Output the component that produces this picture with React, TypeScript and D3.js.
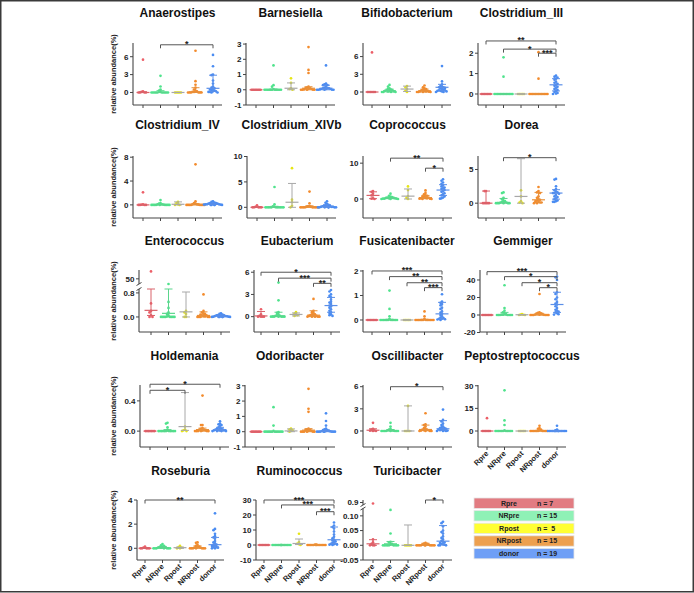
import React from 'react';
import * as d3 from 'd3';

// ---------------- groups / legend ----------------
const groups = ['Rpre', 'NRpre', 'Rpost', 'NRpost', 'donor'];
const groupCounts = [7, 15, 5, 15, 19];
const legendCountLabels = ['n = 7', 'n = 15', 'n =  5', 'n = 15', 'n = 19'];
const dotColors = ['#ec5f68', '#4fe38c', '#e6e614', '#f38b2c', '#4a8cf2'];
const barColors = ['#d9626a', '#5bd58c', '#a8a8a8', '#e8903a', '#5b8fe8'];
const legendColors = ['#e27c82', '#8ff1b6', '#ffff33', '#eda04f', '#6e9ff6'];
const yAxisTitle = 'relative abundance(%)';

// ---------------- data (values per group: Rpre, NRpre, Rpost, NRpost, donor) ----------------
const anaerostipesValues = [
  [5.5, 0.2, 0.1, 0, 0, 0, 0],
  [2.8, 1.0, 0.5, 0.3, 0.1, 0, 0, 0, 0, 0, 0, 0, 0, 0, 0],
  [0, 0, 0, 0, 0],
  [7.0, 1.9, 1.3, 0.8, 0.5, 0.3, 0.2, 0.1, 0.1, 0, 0, 0, 0, 0, 0],
  [6.3, 4.4, 3.0, 2.9, 2.0, 1.5, 1.0, 0.8, 0.7, 0.6, 0.5, 0.4, 0.3, 0.2, 0.2, 0.1, 0.1, 0, 0],
];
const anaerostipesStats = [[0, 0, 0.1], [0, 0, 0.3], [0, 0, 0], [0.1, 0, 0.8], [0.7, 0.2, 2.9]];
const anaerostipesSig = [[1, 4, 8.0, '*']];

const barnesiellaValues = [
  [0, 0, 0, 0, 0, 0, 0],
  [1.6, 0.3, 0.2, 0.05, 0, 0, 0, 0, 0, 0, 0, 0, 0, 0, 0],
  [0.75, 0.45, 0.1, 0.05, 0],
  [2.8, 1.3, 1.1, 0.2, 0.15, 0.1, 0.1, 0.05, 0.05, 0.02, 0, 0, 0, 0, 0],
  [1.6, 0.4, 0.35, 0.3, 0.3, 0.2, 0.15, 0.1, 0.1, 0.1, 0.05, 0.05, 0.05, 0.02, 0, 0, 0, 0, 0],
];
const barnesiellaStats = [[0, 0, 0], [0, 0, 0.05], [0.1, 0, 0.45], [0.1, 0, 0.2], [0.1, 0, 0.3]];
const barnesiellaSig = [];

const bifidobacteriumValues = [
  [6.7, 0, 0, 0, 0, 0, 0],
  [1.2, 0.9, 0.6, 0.5, 0.4, 0.3, 0.3, 0.2, 0.2, 0.1, 0.1, 0, 0, 0, 0],
  [1.0, 0.8, 0.5, 0.2, 0],
  [1.1, 0.8, 0.6, 0.5, 0.4, 0.3, 0.2, 0.2, 0.1, 0.1, 0.05, 0, 0, 0, 0],
  [4.4, 1.8, 1.3, 1.0, 0.9, 0.8, 0.8, 0.7, 0.6, 0.5, 0.4, 0.3, 0.3, 0.2, 0.2, 0.1, 0.1, 0, 0],
];
const bifidobacteriumStats = [[0, 0, 0], [0.2, 0, 0.5], [0.5, 0.1, 1.0], [0.2, 0, 0.5], [0.8, 0.2, 1.3]];
const bifidobacteriumSig = [];

const clostridiumIIIValues = [
  [0, 0, 0, 0, 0, 0, 0],
  [1.8, 0.85, 0, 0, 0, 0, 0, 0, 0, 0, 0, 0, 0, 0, 0],
  [0, 0, 0, 0, 0],
  [2.05, 0.75, 0, 0, 0, 0, 0, 0, 0, 0, 0, 0, 0, 0, 0],
  [0.9, 0.85, 0.8, 0.75, 0.7, 0.6, 0.55, 0.5, 0.45, 0.4, 0.35, 0.3, 0.25, 0.2, 0.15, 0.1, 0.05, 0.02, 0],
];
const clostridiumIIIStats = [[0, 0, 0], [0, 0, 0], [0, 0, 0], [0, 0, 0], [0.45, 0.15, 0.75]];
const clostridiumIIISig = [[0, 4, 2.6, '**'], [1, 4, 2.2, '*'], [3, 4, 2.0, '***']];

const clostridiumIVValues = [
  [2.1, 0.1, 0.05, 0, 0, 0, 0],
  [0.8, 0.3, 0.2, 0.1, 0.1, 0.05, 0, 0, 0, 0, 0, 0, 0, 0, 0],
  [0.5, 0.3, 0.1, 0, 0],
  [6.8, 0.6, 0.3, 0.2, 0.1, 0.1, 0.05, 0, 0, 0, 0, 0, 0, 0, 0],
  [0.6, 0.5, 0.4, 0.3, 0.3, 0.2, 0.2, 0.2, 0.1, 0.1, 0.1, 0.1, 0.05, 0.05, 0, 0, 0, 0, 0],
];
const clostridiumIVStats = [[0, 0, 0.05], [0.05, 0, 0.1], [0.1, 0, 0.5], [0.05, 0, 0.2], [0.1, 0.05, 0.3]];
const clostridiumIVSig = [];

const clostridiumXIVbValues = [
  [0.4, 0.1, 0, 0, 0, 0, 0],
  [4.0, 0.6, 0.2, 0.1, 0, 0, 0, 0, 0, 0, 0, 0, 0, 0, 0],
  [7.7, 1.5, 1.0, 0.3, 0],
  [3.1, 0.8, 0.3, 0.2, 0.1, 0.1, 0, 0, 0, 0, 0, 0, 0, 0, 0],
  [1.2, 0.9, 0.7, 0.5, 0.4, 0.3, 0.3, 0.2, 0.2, 0.1, 0.1, 0.1, 0, 0, 0, 0, 0, 0, 0],
];
const clostridiumXIVbStats = [[0, 0, 0.1], [0, 0, 0.2], [1.0, 0, 4.7], [0.1, 0, 0.3], [0.2, 0, 0.5]];
const clostridiumXIVbSig = [];

const coprococcusValues = [
  [2.2, 2.0, 1.5, 1.0, 0.2, 0.1, 0],
  [1.5, 0.9, 0.7, 0.5, 0.4, 0.3, 0.3, 0.2, 0.2, 0.1, 0.1, 0.1, 0, 0, 0],
  [3.5, 2.5, 0.8, 0.3, 0],
  [2.4, 1.7, 1.3, 1.0, 0.9, 0.7, 0.5, 0.4, 0.3, 0.2, 0.2, 0.1, 0.1, 0, 0],
  [5.5, 5.1, 4.6, 4.2, 3.8, 3.5, 3.2, 3.0, 2.8, 2.5, 2.2, 2.0, 1.6, 1.3, 1.0, 0.7, 0.4, 0.2, 0.1],
];
const coprococcusStats = [[1.0, 0.1, 2.0], [0.2, 0.1, 0.5], [0.8, 0, 2.8], [0.4, 0.1, 1.0], [2.5, 1.0, 4.0]];
const coprococcusSig = [[1, 4, 11.4, '**'], [3, 4, 8.6, '*']];

const doreaValues = [
  [1.8, 1.8, 0, 0, 0, 0, 0],
  [1.6, 1.5, 0.8, 0.6, 0.4, 0.3, 0.2, 0.1, 0.1, 0, 0, 0, 0, 0, 0],
  [1.9, 1.0, 0.3, 0.1, 0],
  [2.4, 1.8, 1.6, 1.5, 1.0, 0.8, 0.6, 0.5, 0.4, 0.3, 0.2, 0.1, 0.1, 0, 0],
  [3.6, 3.5, 2.5, 2.1, 1.9, 1.7, 1.6, 1.5, 1.5, 1.4, 1.2, 1.0, 0.9, 0.7, 0.6, 0.4, 0.3, 0.2, 0.2],
];
const doreaStats = [[0, 0, 1.8], [0.1, 0, 0.7], [1.0, 0, 6.6], [0.5, 0.1, 1.6], [1.5, 0.6, 2.0]];
const doreaSig = [[1, 4, 6.75, '*']];

const enterococcusValues = [
  [60, 0.45, 0.2, 0.15, 0.05, 0, 0],
  [0.95, 0.5, 0.3, 0.15, 0.1, 0.05, 0.02, 0, 0, 0, 0, 0, 0, 0, 0],
  [0.2, 0.15, 0.1, 0, 0],
  [0.75, 0.2, 0.15, 0.12, 0.1, 0.08, 0.05, 0.05, 0.03, 0.02, 0, 0, 0, 0, 0],
  [0.12, 0.1, 0.08, 0.06, 0.05, 0.05, 0.04, 0.03, 0.03, 0.02, 0.02, 0.01, 0.01, 0, 0, 0, 0, 0, 0],
];
const enterococcusStats = [[0.22, 0.05, 0.93], [0.12, 0, 0.93], [0.17, 0, 0.83], [0.05, 0, 0.17], [0.03, 0, 0.07]];
const enterococcusSig = [];

const eubacteriumValues = [
  [1.0, 0.3, 0.1, 0, 0, 0, 0],
  [4.6, 2.2, 0.6, 0.5, 0.3, 0.2, 0.1, 0.1, 0, 0, 0, 0, 0, 0, 0],
  [0.6, 0.4, 0.3, 0.2, 0.1],
  [2.4, 0.8, 0.6, 0.5, 0.3, 0.3, 0.2, 0.2, 0.1, 0.1, 0, 0, 0, 0, 0],
  [3.6, 3.4, 3.0, 2.8, 2.6, 2.3, 2.0, 1.9, 1.7, 1.5, 1.4, 1.2, 1.0, 0.8, 0.6, 0.5, 0.3, 0.2, 0.1],
];
const eubacteriumStats = [[0.1, 0, 0.7], [0.1, 0, 0.6], [0.3, 0.1, 0.5], [0.2, 0, 0.8], [1.5, 0.6, 2.6]];
const eubacteriumSig = [[0, 4, 6.0, '*'], [1, 4, 5.2, '***'], [3, 4, 4.5, '**']];

const fusicatenibacterValues = [
  [0, 0, 0, 0, 0, 0, 0],
  [1.2, 0.45, 0.15, 0.05, 0, 0, 0, 0, 0, 0, 0, 0, 0, 0, 0],
  [0, 0, 0, 0, 0],
  [0.35, 0.15, 0.05, 0, 0, 0, 0, 0, 0, 0, 0, 0, 0, 0, 0],
  [1.05, 0.75, 0.7, 0.65, 0.6, 0.5, 0.45, 0.35, 0.3, 0.25, 0.2, 0.15, 0.1, 0.08, 0.05, 0.05, 0.03, 0.02, 0],
];
const fusicatenibacterStats = [[0, 0, 0], [0, 0, 0.03], [0, 0, 0], [0, 0, 0.03], [0.25, 0.05, 0.72]];
const fusicatenibacterSig = [[0, 4, 2.0, '***'], [1, 4, 1.77, '**'], [2, 4, 1.52, '**'], [3, 4, 1.32, '***']];

const gemmigerValues = [
  [0, 0, 0, 0, 0, 0, 0],
  [34, 8, 5, 3, 1.5, 1, 0.5, 0.3, 0, 0, 0, 0, 0, 0, 0],
  [1, 0.5, 0.3, 0, 0],
  [24, 3, 2.5, 2, 1.5, 1, 0.5, 0.3, 0.2, 0, 0, 0, 0, 0, 0],
  [44, 43, 40, 26, 24, 20, 18, 15, 13, 12, 10, 8, 6, 5, 4, 3, 2, 1, 0.5],
];
const gemmigerStats = [[0, 0, 0], [0.3, 0, 3], [0.3, 0, 0.5], [0.3, 0, 2], [12, 3, 26]];
const gemmigerSig = [[0, 4, 49.5, '***'], [1, 4, 43.8, '*'], [2, 4, 36.9, '*'], [3, 4, 31.2, '*']];

const holdemaniaValues = [
  [0, 0, 0, 0, 0, 0, 0],
  [0.11, 0.1, 0.05, 0.02, 0, 0, 0, 0, 0, 0, 0, 0, 0, 0, 0],
  [0.06, 0.02, 0.01, 0, 0],
  [0.47, 0.08, 0.08, 0.04, 0.03, 0.02, 0.02, 0.01, 0.01, 0, 0, 0, 0, 0, 0],
  [0.13, 0.1, 0.09, 0.08, 0.07, 0.05, 0.04, 0.03, 0.03, 0.02, 0.02, 0.02, 0.01, 0.01, 0.01, 0, 0, 0, 0],
];
const holdemaniaStats = [[0, 0, 0], [0, 0, 0.02], [0.06, 0.01, 0.51], [0.02, 0, 0.04], [0.02, 0, 0.05]];
const holdemaniaSig = [[0, 4, 0.62, '*'], [0, 2, 0.54, '*']];

const odoribacterValues = [
  [0, 0, 0, 0, 0, 0, 0],
  [1.6, 0.4, 0.05, 0, 0, 0, 0, 0, 0, 0, 0, 0, 0, 0, 0],
  [0.2, 0.15, 0.1, 0.05, 0],
  [2.8, 1.5, 1.3, 0.2, 0.15, 0.1, 0.1, 0.05, 0.05, 0, 0, 0, 0, 0, 0],
  [1.2, 0.7, 0.4, 0.2, 0.15, 0.1, 0.1, 0.05, 0.05, 0.03, 0.02, 0, 0, 0, 0, 0, 0, 0, 0],
];
const odoribacterStats = [[0, 0, 0], [0, 0, 0.02], [0.05, 0, 0.18], [0.1, 0, 0.2], [0.03, 0, 0.1]];
const odoribacterSig = [];

const oscillibacterValues = [
  [1.1, 0.3, 0.2, 0.1, 0.05, 0, 0],
  [1.1, 0.6, 0.3, 0.2, 0.1, 0.1, 0.05, 0, 0, 0, 0, 0, 0, 0, 0],
  [3.4, 0, 0, 0, 0],
  [2.4, 0.9, 0.8, 0.6, 0.4, 0.3, 0.2, 0.2, 0.1, 0.1, 0.05, 0, 0, 0, 0],
  [2.9, 1.5, 1.3, 1.0, 0.8, 0.6, 0.5, 0.4, 0.4, 0.3, 0.3, 0.2, 0.2, 0.1, 0.1, 0.05, 0, 0, 0],
];
const oscillibacterStats = [[0.1, 0, 0.3], [0.05, 0, 0.2], [0, 0, 3.4], [0.2, 0.05, 0.8], [0.3, 0.1, 1.4]];
const oscillibacterSig = [[1, 4, 6.0, '*']];

const peptostreptococcusValues = [
  [8.5, 0, 0, 0, 0, 0, 0],
  [27, 7, 4, 0.5, 0, 0, 0, 0, 0, 0, 0, 0, 0, 0, 0],
  [0, 0, 0, 0, 0],
  [3.5, 2, 1.5, 1, 0.5, 0, 0, 0, 0, 0, 0, 0, 0, 0, 0],
  [3.5, 1, 0.5, 0, 0, 0, 0, 0, 0, 0, 0, 0, 0, 0, 0, 0, 0, 0, 0],
];
const peptostreptococcusStats = [[0, 0, 0], [0, 0, 0.3], [0, 0, 0], [0, 0, 0.5], [0, 0, 0.2]];
const peptostreptococcusSig = [];

const roseburiaValues = [
  [0.15, 0.05, 0, 0, 0, 0, 0],
  [0.35, 0.25, 0.2, 0.15, 0.1, 0.1, 0.05, 0.05, 0, 0, 0, 0, 0, 0, 0],
  [0.2, 0.1, 0.05, 0, 0],
  [0.5, 0.45, 0.3, 0.2, 0.15, 0.1, 0.05, 0.05, 0, 0, 0, 0, 0, 0, 0],
  [2.9, 1.6, 1.5, 1.2, 1.0, 0.9, 0.8, 0.6, 0.5, 0.4, 0.3, 0.3, 0.2, 0.2, 0.1, 0.1, 0.05, 0, 0],
];
const roseburiaStats = [[0, 0, 0.05], [0.05, 0, 0.15], [0.05, 0, 0.1], [0.05, 0, 0.2], [0.3, 0.1, 0.9]];
const roseburiaSig = [[0, 4, 4.0, '**']];

const ruminococcusValues = [
  [0, 0, 0, 0, 0, 0, 0],
  [0, 0, 0, 0, 0, 0, 0, 0, 0, 0, 0, 0, 0, 0, 0],
  [7.5, 2, 1, 0.5, 0],
  [0.3, 0.2, 0, 0, 0, 0, 0, 0, 0, 0, 0, 0, 0, 0, 0],
  [15, 13, 12, 11, 9, 7, 5.5, 4.5, 3.5, 3, 2.5, 2, 1.5, 1, 0.8, 0.5, 0.3, 0.2, 0],
];
const ruminococcusStats = [[0, 0, 0], [0, 0, 0], [1, 0.3, 4], [0, 0, 0], [3.5, 1, 12]];
const ruminococcusSig = [[0, 4, 30, '***'], [1, 4, 26.7, '***'], [3, 4, 22.2, '***']];

const turicibacterValues = [
  [0.88, 0.02, 0.01, 0.005, 0, 0, 0],
  [0.12, 0.04, 0.012, 0.01, 0.005, 0.003, 0, 0, 0, 0, 0, 0, 0, 0, 0],
  [0, 0, 0, 0, 0],
  [0.008, 0.006, 0.005, 0.003, 0.002, 0, 0, 0, 0, 0, 0, 0, 0, 0, 0],
  [0.08, 0.075, 0.065, 0.05, 0.045, 0.04, 0.03, 0.025, 0.02, 0.015, 0.012, 0.01, 0.008, 0.005, 0.003, 0.002, 0, 0, 0],
];
const turicibacterStats = [[0.005, 0, 0.019], [0.005, 0, 0.013], [0, 0, 0.069], [0.001, 0, 0.007], [0.014, 0.002, 0.067]];
const turicibacterSig = [[3, 4, 0.95, '*']];

// ---------------- panel configuration ----------------
const rowTop = [43, 156, 270, 385, 500];
const rowBottom = [105, 218, 332, 447, 560];
const titleY = [17, 129, 245, 360, 475];

const panels: any[] = [
  { name: 'Anaerostipes', values: anaerostipesValues, stats: anaerostipesStats, sig: anaerostipesSig, domain: [-2.1, 8.3], ticks: [0, 3, 6], fmt: 'd', row: 0, axisX: 133, cat0: 143 },
  { name: 'Barnesiella', values: barnesiellaValues, stats: barnesiellaStats, sig: barnesiellaSig, domain: [-1, 3.07], ticks: [-1, 0, 1, 2, 3], fmt: 'd', row: 0, axisX: 246, cat0: 256 },
  { name: 'Bifidobacterium', values: bifidobacteriumValues, stats: bifidobacteriumStats, sig: bifidobacteriumSig, domain: [-2.2, 8.3], ticks: [0, 3, 6], fmt: 'd', row: 0, axisX: 363, cat0: 372 },
  { name: 'Clostridium_III', values: clostridiumIIIValues, stats: clostridiumIIIStats, sig: clostridiumIIISig, domain: [-0.54, 2.5], ticks: [0, 1, 2], fmt: 'd', row: 0, axisX: 478, cat0: 486 },
  { name: 'Clostridium_IV', values: clostridiumIVValues, stats: clostridiumIVStats, sig: clostridiumIVSig, domain: [-2.2, 8.2], ticks: [0, 4, 8], fmt: 'd', row: 1, axisX: 133, cat0: 143 },
  { name: 'Clostridium_XIVb', values: clostridiumXIVbValues, stats: clostridiumXIVbStats, sig: clostridiumXIVbSig, domain: [-2.1, 10.1], ticks: [0, 5, 10], fmt: 'd', row: 1, axisX: 247, cat0: 257 },
  { name: 'Coprococcus', values: coprococcusValues, stats: coprococcusStats, sig: coprococcusSig, domain: [-5.3, 12], ticks: [0, 10], fmt: 'd', row: 1, axisX: 363, cat0: 373 },
  { name: 'Dorea', values: doreaValues, stats: doreaStats, sig: doreaSig, domain: [-2.2, 7], ticks: [0, 5], fmt: 'd', row: 1, axisX: 478, cat0: 486 },
  { name: 'Enterococcus', values: enterococcusValues, stats: enterococcusStats, sig: enterococcusSig, domain: [-0.5, 0.93], ticks: [0, 0.8], fmt: '.1f', upper: [43, 62], upperTicks: [50], upperFmt: 'd', breakLow: 289, breakHigh: 284, row: 2, axisX: 139, cat0: 151 },
  { name: 'Eubacterium', values: eubacteriumValues, stats: eubacteriumStats, sig: eubacteriumSig, domain: [-2.07, 6.3], ticks: [0, 3, 6], fmt: 'd', row: 2, axisX: 254, cat0: 261 },
  { name: 'Fusicatenibacter', values: fusicatenibacterValues, stats: fusicatenibacterStats, sig: fusicatenibacterSig, domain: [-0.49, 2.04], ticks: [0, 1, 2], fmt: 'd', row: 2, axisX: 363, cat0: 372 },
  { name: 'Gemmiger', values: gemmigerValues, stats: gemmigerStats, sig: gemmigerSig, domain: [-19.4, 51.4], ticks: [-20, 0, 20, 40], fmt: 'd', row: 2, axisX: 480, cat0: 487 },
  { name: 'Holdemania', values: holdemaniaValues, stats: holdemaniaStats, sig: holdemaniaSig, domain: [-0.21, 0.61], ticks: [0, 0.4], fmt: '.1f', row: 3, axisX: 140, cat0: 150 },
  { name: 'Odoribacter', values: odoribacterValues, stats: odoribacterStats, sig: odoribacterSig, domain: [-1, 3.05], ticks: [-1, 0, 1, 2, 3], fmt: 'd', row: 3, axisX: 245, cat0: 256 },
  { name: 'Oscillibacter', values: oscillibacterValues, stats: oscillibacterStats, sig: oscillibacterSig, domain: [-2.17, 6.23], ticks: [0, 3, 6], fmt: 'd', row: 3, axisX: 363, cat0: 373 },
  { name: 'Peptostreptococcus', values: peptostreptococcusValues, stats: peptostreptococcusStats, sig: peptostreptococcusSig, domain: [-10.6, 30.5], ticks: [0, 15, 30], fmt: 'd', row: 3, axisX: 478, cat0: 487, xLabels: true },
  { name: 'Roseburia', values: roseburiaValues, stats: roseburiaStats, sig: roseburiaSig, domain: [-0.97, 4], ticks: [0, 2, 4], fmt: 'd', row: 4, axisX: 137, cat0: 145, xLabels: true },
  { name: 'Ruminococcus', values: ruminococcusValues, stats: ruminococcusStats, sig: ruminococcusSig, domain: [-10, 30], ticks: [-10, 0, 10, 20, 30], fmt: 'd', row: 4, axisX: 256, cat0: 264, xLabels: true },
  { name: 'Turicibacter', values: turicibacterValues, stats: turicibacterStats, sig: turicibacterSig, domain: [-0.05, 0.125], ticks: [-0.05, 0, 0.05, 0.1], fmt: '.2f', upper: [0.85, 0.95], upperTicks: [0.9], upperFmt: '.1f', breakLow: 508.5, breakHigh: 505, row: 4, axisX: 363, cat0: 373, xLabels: true },
];

const FONT = '"Liberation Sans", Arial, Helvetica, sans-serif';
const AXIS_COLOR = '#454545';

function makeY(p: any) {
  const top = rowTop[p.row];
  const bottom = rowBottom[p.row];
  if (!p.upper) {
    const s = d3.scaleLinear().domain(p.domain).range([bottom, top]);
    return (v: number) => s(v);
  }
  const lower = d3.scaleLinear().domain(p.domain).range([bottom, p.breakLow]).clamp(true);
  const upper = d3.scaleLinear().domain(p.upper).range([p.breakHigh, top]);
  return (v: number) => (v > p.domain[1] ? (v >= p.upper[0] ? upper(v) : upper(p.upper[0])) : lower(v));
}

function swarm(vals: number[], y: (v: number) => number) {
  const pts = vals.map((v) => ({ v, py: y(v), dx: 0 })).sort((a, b) => a.py - b.py);
  const placed: any[] = [];
  const step = 1.5;
  const cands = [0];
  for (let k = 1; k <= 6; k++) { cands.push(-k * step); cands.push(k * step); }
  pts.forEach((p, idx) => {
    let chosen: number | null = null;
    for (const c of cands) {
      const hit = placed.some((q) => Math.abs(q.py - p.py) < 2.2 && Math.abs(q.dx - c) < step * 0.9);
      if (!hit) { chosen = c; break; }
    }
    if (chosen === null) chosen = cands[idx % cands.length] * 0.5;
    p.dx = chosen;
    placed.push(p);
  });
  return placed;
}

function Panel({ p }: { p: any }) {
  const top = rowTop[p.row];
  const bottom = rowBottom[p.row];
  const y = makeY(p);
  const x = d3.scalePoint<number>().domain([0, 1, 2, 3, 4]).range([p.cat0, p.cat0 + 70]);
  const right = p.cat0 + 79;
  const fmt = d3.format(p.fmt);
  const els: any[] = [];

  els.push(
    <text key="title" x={(p.axisX + right) / 2} y={titleY[p.row]} textAnchor="middle" fontFamily={FONT} fontWeight="bold" fontSize={12} fill="#111">{p.name}</text>
  );

  if (!p.upper) {
    els.push(<line key="ya" x1={p.axisX} x2={p.axisX} y1={top} y2={bottom} stroke={AXIS_COLOR} strokeWidth={1.1} />);
  } else {
    els.push(<line key="ya1" x1={p.axisX} x2={p.axisX} y1={p.breakLow} y2={bottom} stroke={AXIS_COLOR} strokeWidth={1.1} />);
    els.push(<line key="ya2" x1={p.axisX} x2={p.axisX} y1={top} y2={p.breakHigh} stroke={AXIS_COLOR} strokeWidth={1.1} />);
    els.push(<line key="br1" x1={p.axisX - 2.5} x2={p.axisX + 2.5} y1={p.breakLow + 1.5} y2={p.breakLow - 1.5} stroke={AXIS_COLOR} strokeWidth={1} />);
    els.push(<line key="br2" x1={p.axisX - 2.5} x2={p.axisX + 2.5} y1={p.breakHigh + 1.5} y2={p.breakHigh - 1.5} stroke={AXIS_COLOR} strokeWidth={1} />);
    const uf = d3.format(p.upperFmt);
    p.upperTicks.forEach((t: number, i: number) => {
      const ty = y(t);
      els.push(<line key={'ut' + i} x1={p.axisX - 3} x2={p.axisX} y1={ty} y2={ty} stroke={AXIS_COLOR} strokeWidth={1} />);
      els.push(<text key={'utl' + i} x={p.axisX - 4.5} y={ty} dy="0.35em" textAnchor="end" fontFamily={FONT} fontWeight="bold" fontSize={8} fill="#222">{uf(t)}</text>);
    });
  }
  p.ticks.forEach((t: number, i: number) => {
    const ty = y(t);
    els.push(<line key={'t' + i} x1={p.axisX - 3} x2={p.axisX} y1={ty} y2={ty} stroke={AXIS_COLOR} strokeWidth={1} />);
    els.push(<text key={'tl' + i} x={p.axisX - 4.5} y={ty} dy="0.35em" textAnchor="end" fontFamily={FONT} fontWeight="bold" fontSize={8} fill="#222">{fmt(t).replace('\u2212', '-')}</text>);
  });

  els.push(<line key="xa" x1={p.axisX} x2={right} y1={bottom} y2={bottom} stroke={AXIS_COLOR} strokeWidth={1.1} />);
  groups.forEach((g, i) => {
    const cx = x(i)!;
    els.push(<line key={'xt' + i} x1={cx} x2={cx} y1={bottom} y2={bottom + 3} stroke={AXIS_COLOR} strokeWidth={1} />);
    if (p.xLabels) {
      els.push(
        <text key={'xl' + i} transform={`translate(${cx + 2},${bottom + 7}) rotate(-45)`} textAnchor="end" fontFamily={FONT} fontWeight="bold" fontSize={7.5} fill="#222">{g}</text>
      );
    }
  });

  if (p.axisX < 150) {
    const cy = (top + bottom) / 2;
    els.push(
      <text key="ylab" transform={`translate(116,${cy}) rotate(-90)`} textAnchor="middle" fontFamily={FONT} fontWeight="bold" fontSize={7.5} fill="#222">{yAxisTitle}</text>
    );
  }

  p.values.forEach((vals: number[], gi: number) => {
    const cx = x(gi)!;
    swarm(vals, y).forEach((pt: any, k: number) => {
      els.push(<circle key={`d${gi}-${k}`} cx={cx + pt.dx} cy={pt.py} r={1.35} fill={dotColors[gi]} />);
    });
  });

  p.stats.forEach((s: number[], gi: number) => {
    const cx = x(gi)!;
    const [m, q1, q3] = s;
    const c = barColors[gi];
    els.push(<line key={'iq' + gi} x1={cx} x2={cx} y1={y(q1)} y2={y(q3)} stroke={c} strokeWidth={1} />);
    els.push(<line key={'q1' + gi} x1={cx - 4} x2={cx + 4} y1={y(q1)} y2={y(q1)} stroke={c} strokeWidth={1} />);
    els.push(<line key={'q3' + gi} x1={cx - 4} x2={cx + 4} y1={y(q3)} y2={y(q3)} stroke={c} strokeWidth={1} />);
    els.push(<line key={'md' + gi} x1={cx - 6.5} x2={cx + 6.5} y1={y(m)} y2={y(m)} stroke={c} strokeWidth={1.2} />);
  });

  p.sig.forEach((b: any[], i: number) => {
    const [a, e, v, lab] = b;
    const by = y(v);
    const x1 = x(a)!;
    const x2 = x(e)!;
    els.push(
      <path key={'sb' + i} d={`M${x1},${by + 3.5}V${by}H${x2}V${by + 3.5}`} fill="none" stroke="#555" strokeWidth={1} />
    );
    els.push(
      <text key={'st' + i} x={(x1 + x2) / 2} y={by + 2.5} textAnchor="middle" fontFamily={FONT} fontWeight="bold" fontSize={9} fill="#222">{lab}</text>
    );
  });

  return <g>{els}</g>;
}

function Legend() {
  const y0 = 498;
  const rowStep = 12.6;
  return (
    <g>
      {groups.map((g, i) => (
        <g key={g}>
          <rect x={474} y={y0 + i * rowStep} width={100} height={10.4} fill={legendColors[i]} stroke="#e6e6e6" strokeWidth={0.8} />
          <text x={509} y={y0 + i * rowStep + 5.2} dy="0.35em" textAnchor="middle" fontFamily={FONT} fontWeight="bold" fontSize={7} fill="#222">{g}</text>
          <text x={537} y={y0 + i * rowStep + 5.2} dy="0.35em" fontFamily={FONT} fontWeight="bold" fontSize={7} fill="#222" style={{ whiteSpace: 'pre' }}>{legendCountLabels[i]}</text>
        </g>
      ))}
    </g>
  );
}

export default function App() {
  return (
    <svg width={694} height={593} viewBox="0 0 694 593" style={{ position: 'absolute', left: 0, top: 0, background: '#fff' }}>
      <rect x={0} y={0} width={694} height={593} fill="#fff" />
      {panels.map((p) => (
        <Panel key={p.name} p={p} />
      ))}
      <Legend />
      <rect x={0.75} y={0.75} width={692.5} height={591} fill="none" stroke="#3a3a3a" strokeWidth={1.5} />
    </svg>
  );
}
